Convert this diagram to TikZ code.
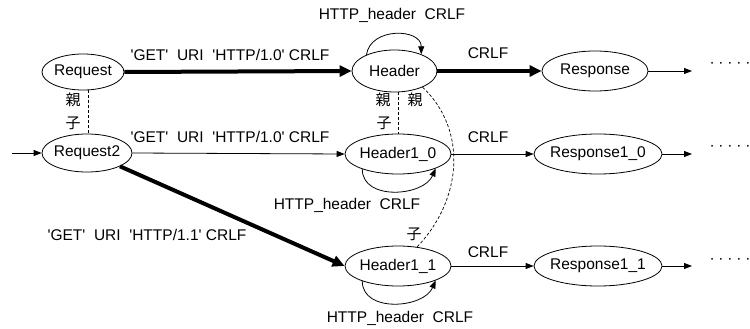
\documentclass[tikz,border=0pt]{standalone}
\usepackage{fontspec}
\newfontfamily\lab{Liberation Sans}
\newfontfamily\cjk{Noto Sans CJK JP}
\usetikzlibrary{shapes.geometric,arrows.meta}
\newcommand\zb[1]{\makebox[0pt]{#1}}
\begin{document}
\begin{tikzpicture}[x=1pt,y=-1pt,
  every node/.style={font=\lab\fontsize{15.5}{18}\selectfont},
  st/.style={draw, ellipse, line width=0.8pt, inner sep=0pt, minimum height=40pt},
  tx/.style={inner sep=0pt},
  kj/.style={inner sep=0pt, font=\cjk\fontsize{15}{18}\selectfont},
  thinarr/.style={line width=0.8pt, -{Triangle[length=8pt,width=6pt]}},
  thickarr/.style={line width=4pt, -{Triangle[length=12pt,width=11pt]}},
  kin/.style={line width=0.7pt, dash pattern=on 3pt off 2pt}
]
\useasboundingbox (0,0) rectangle (750,329);
% states
\node[st, minimum width=82pt, minimum height=36pt] (req) at (83,72) {\zb{Request}};
\node[st, minimum width=90pt, minimum height=38pt] (req2) at (87,153) {\zb{Request2}};
\node[st, minimum width=85pt, minimum height=42pt] (hd) at (394.5,71) {\zb{Header}};
\node[st, minimum width=106pt] (h10) at (398,154) {\zb{Header1\_0}};
\node[st, minimum width=106pt] (h11) at (398,266) {\zb{Header1\_1}};
\node[st, minimum width=106pt] (rs) at (595,71) {\zb{Response}};
\node[st, minimum width=128pt] (r10) at (598,154) {\zb{Response1\_0}};
\node[st, minimum width=128pt] (r11) at (598,266) {\zb{Response1\_1}};
% free ends
\coordinate (in) at (12,153);
\coordinate (o1) at (692,71);
\coordinate (o2) at (692,154);
\coordinate (o3) at (692,266);
% transitions
\draw[thickarr] (req.east) -- (hd.west);
\draw[thickarr] (hd.east) -- (rs.west);
\draw[thinarr] (in) -- (req2.west);
\draw[thinarr] (req2.east) -- (h10.west);
\draw[thinarr] (h10.east) -- (r10.west);
\draw[thinarr] (h11.east) -- (r11.west);
\draw[thickarr] (req2.-22) -- (h11.west);
\draw[thinarr] (rs.east) -- (o1);
\draw[thinarr] (r10.east) -- (o2);
\draw[thinarr] (r11.east) -- (o3);
% loops
\draw[thinarr] (hd.150) .. controls +(4,-28) and +(0,-26) .. (hd.32);
\draw[thinarr] (h10.203) .. controls +(0,32) and +(-12,28) .. (h10.-21);
\draw[thinarr] (h11.203) .. controls +(0,32) and +(-12,28) .. (h11.-21);
% parent/child links
\draw[kin] (req.-74) -- (req.-74 |- req2.north);
\draw[kin] (hd.-80) -- (hd.-80 |- h10.north);
\draw[kin] (hd.-30) .. controls (468,130) and (462,200) .. (h11.45);
% labels
\node[tx] (l1) at (230,55) {'GET'~~URI~~'HTTP/1.0' CRLF};
\node[tx] (l2) at (230,137) {'GET'~~URI~~'HTTP/1.0' CRLF};
\node[tx] (l3) at (147,235) {'GET'~~URI~~'HTTP/1.1' CRLF};
\node[tx] (c1) at (488,53) {CRLF};
\node[tx] (c2) at (488,137) {CRLF};
\node[tx] (c3) at (488,252) {CRLF};
\node[tx] (hl1) at (392,15) {HTTP\_header~~CRLF};
\node[tx] (hl2) at (347,205) {HTTP\_header~~CRLF};
\node[tx] (hl3) at (400,318) {HTTP\_header~~CRLF};
\node[kj] (p1) at (73,100) {親};
\node[kj] (k1) at (73,123) {子};
\node[kj] (p2) at (383,100) {親};
\node[kj] (p3) at (415,100) {親};
\node[kj] (k2) at (384,123) {子};
\node[kj] (k3) at (414,234) {子};
% ellipsis
\node[tx] (e1) at (730,65) {·\kern3.8pt·\kern3.8pt·\kern3.8pt·\kern3.8pt·};
\node[tx] (e2) at (730,148) {·\kern3.8pt·\kern3.8pt·\kern3.8pt·\kern3.8pt·};
\node[tx] (e3) at (730,261) {·\kern3.8pt·\kern3.8pt·\kern3.8pt·\kern3.8pt·};
\end{tikzpicture}
\end{document}
